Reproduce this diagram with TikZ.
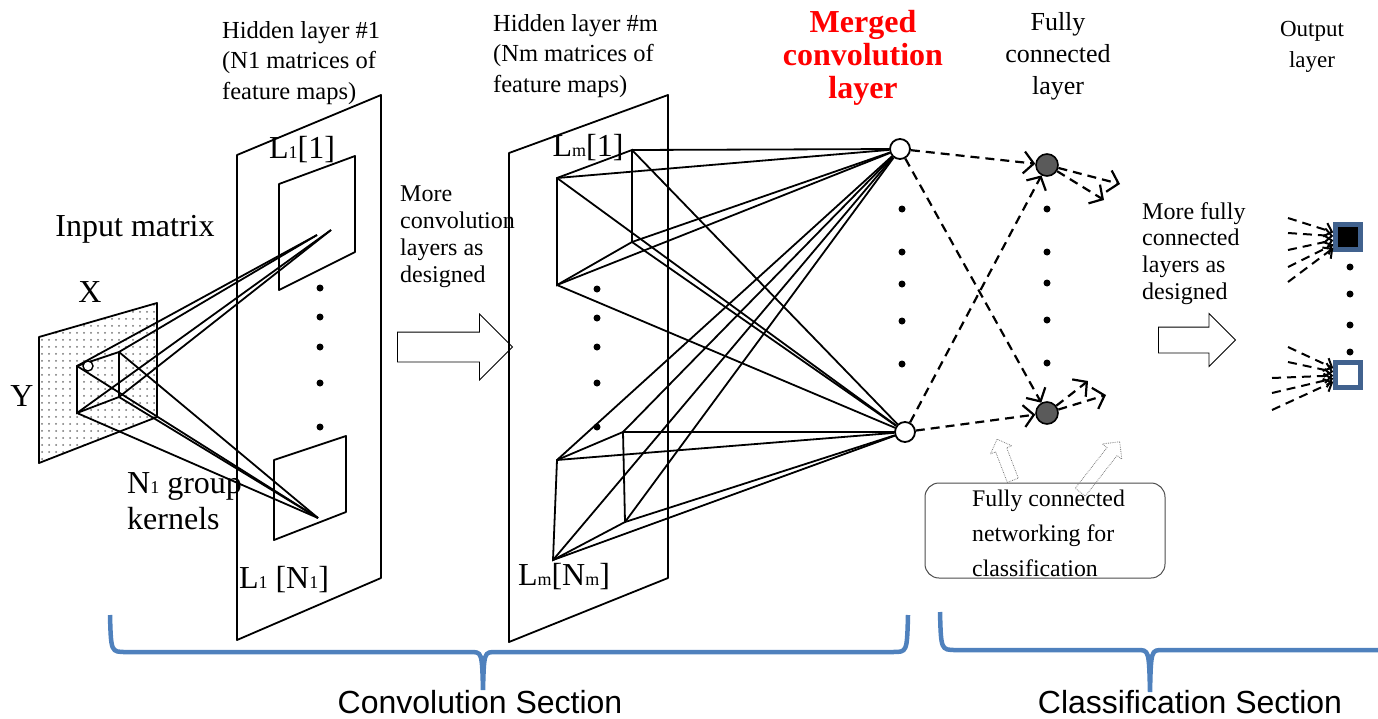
\documentclass[tikz,border=0pt]{standalone}
\usepackage{fontspec}
\setmainfont{Liberation Serif}
\setsansfont{Liberation Sans}
\usepackage{tikz}
\usetikzlibrary{positioning}
\usetikzlibrary{arrows.meta}
\usetikzlibrary{shapes.arrows}
\usetikzlibrary{patterns.meta}

\definecolor{braceblue}{RGB}{79,129,189}
\definecolor{outblue}{RGB}{65,98,142}
\definecolor{fcgray}{RGB}{90,90,90}

\begin{document}
\begin{tikzpicture}[x=1pt,y=-1pt,
	plane/.style={line width=1.8pt,line join=round},
	link/.style={line width=1.8pt},
	dot/.style={circle,fill=black,inner sep=0pt,minimum size=7pt},
	merged/.style={circle,draw,line width=1.8pt,fill=white,inner sep=0pt,minimum size=20pt},
	fcnode/.style={circle,draw,line width=1.6pt,fill=fcgray,inner sep=0pt,minimum size=22pt},
	outnode/.style={rectangle,draw=outblue,line width=4.5pt,inner sep=0pt,minimum size=25pt},
	dlink/.style={line width=2.2pt,dash pattern=on 9pt off 6pt,-{Straight Barb[length=10pt,width=22pt,line width=2.2pt]}},
	dlinksmall/.style={line width=2pt,dash pattern=on 9pt off 6pt,-{Straight Barb[length=7pt,width=14pt,line width=2pt]}},
	blockarrow/.style={single arrow,draw,fill=white,line width=0.8pt,inner xsep=0pt,single arrow tip angle=90},
	pointer/.style={single arrow,draw=gray,densely dotted,line width=0.8pt,inner xsep=0pt,single arrow tip angle=90},
	secbrace/.style={draw=braceblue,line width=4.5pt},
	labtext/.style={font=\fontsize{32}{36}\selectfont,inner sep=0pt},
	captext/.style={font=\fontsize{24.5}{30.5}\selectfont,inner sep=0pt},
	moretext/.style={font=\fontsize{24}{26.7}\selectfont,inner sep=0pt,align=left},
	sectext/.style={font=\sffamily\fontsize{32}{34}\selectfont,inner sep=0pt,anchor=base}]
	\useasboundingbox (0,0) rectangle (1378,718);
	\def\sm#1{{\fontsize{18}{18}\selectfont #1}}

	%input matrix
	\fill[white] (39,337) -- (157,303) -- (157,417) -- (39,463) -- cycle;
	\fill[pattern={Dots[distance=7pt,radius=1pt]},pattern color=black!55] (39,337) -- (157,303) -- (157,417) -- (39,463) -- cycle;
	\draw[plane] (39,337) -- (157,303) -- (157,417) -- (39,463) -- cycle;
	\coordinate (kernel_c1) at (77,366);
	\coordinate (kernel_c2) at (119,352);
	\coordinate (kernel_c3) at (119,397);
	\coordinate (kernel_c4) at (77,413);
	\draw[link] (kernel_c1) -- (kernel_c2) -- (kernel_c3) -- (kernel_c4) -- cycle;
	\node[labtext] (input_label) at (135,229) {Input matrix};
	\node[labtext] (x_label) at (90,292) {X};
	\node[labtext] (y_label) at (22,396) {Y};
	\node[labtext,align=left,anchor=north west] (kernel_label) at (127,472) {N\sm{1} group\\kernels};

	%hidden layer 1
	\draw[plane] (237,155) -- (381,95) -- (381,578) -- (237,640) -- cycle;
	\draw[plane] (279,184) -- (355,156) -- (355,252) -- (279,290) -- cycle;
	\draw[plane] (274,460) -- (346,436) -- (346,512) -- (274,540) -- cycle;
	\coordinate (l1_target1) at (317,235);
	\coordinate (l1_target2) at (331,230);
	\coordinate (l1_target3) at (318,518);
	\foreach \y in {288,317,347,383,427} {
		\node[dot] at (320,\y) {};
	}
	\node[labtext] (l1_first) at (302,150) {L\sm{1}[1]};
	\node[labtext] (l1_last) at (284,580) {L\sm{1} [N\sm{1}]};
	\node[captext,align=left,anchor=north west] (hidden1_label) at (222,21) {Hidden layer \#1\\(N1 matrices of\\feature maps)};

	% kernels to feature maps
	\foreach \i in {1,2} {
		\draw[link] (kernel_c\i) -- (l1_target1);
		\draw[link] (kernel_c\i) -- (l1_target3);
	}
	\foreach \i in {3,4} {
		\draw[link] (kernel_c\i) -- (l1_target2);
		\draw[link] (kernel_c\i) -- (l1_target3);
	}
	\draw[fill=white,line width=1.4pt] (kernel_c1) ++(11,0) circle (5pt);

	%more convolution layers
	\node[moretext,anchor=north west] (more_conv) at (400,186) {More\\convolution\\layers as\\designed};
	\node[blockarrow,minimum height=115pt,inner ysep=14.5pt,single arrow head extend=18pt] (more_conv_arrow) at (447.5,347) {};

	%hidden layer m
	\draw[plane] (509,153) -- (668,95) -- (668,578) -- (509,642) -- cycle;
	\coordinate (lm1_a) at (557,178);
	\coordinate (lm1_b) at (632,150);
	\coordinate (lm1_c) at (632,242);
	\coordinate (lm1_d) at (557,285);
	\coordinate (lmN_a) at (557,460);
	\coordinate (lmN_b) at (623,432);
	\coordinate (lmN_c) at (625,522);
	\coordinate (lmN_d) at (553,560);
	\draw[link] (lm1_a) -- (lm1_b) -- (lm1_c) -- (lm1_d) -- cycle;
	\draw[link] (lmN_a) -- (lmN_b) -- (lmN_c) -- (lmN_d) -- cycle;
	\foreach \y in {289,318,347,383,427} {
		\node[dot] at (597,\y) {};
	}
	\node[labtext] (lm_first) at (588,148) {L\sm{m}[1]};
	\node[labtext] (lm_last) at (564,577) {L\sm{m}[N\sm{m}]};
	\node[captext,align=left,anchor=north west] (hiddenm_label) at (493,14) {Hidden layer \#m\\(Nm matrices of\\feature maps)};

	%merged convolution layer
	\node[merged] (merged_node1) at (900,149) {};
	\node[merged] (merged_node2) at (905,432) {};
	\foreach \y in {209,252,284,321,364} {
		\node[dot] at (902,\y) {};
	}
	\foreach \c in {lm1_a,lm1_b,lm1_c,lm1_d,lmN_a,lmN_b,lmN_c,lmN_d} {
		\draw[link] (\c) -- (merged_node1);
		\draw[link] (\c) -- (merged_node2);
	}
	\node[font=\bfseries\fontsize{32}{33}\selectfont,text=red,align=center,inner sep=0pt,anchor=north] (merged_label) at (863,10.5) {Merged\\convolution\\layer};

	%fully connected layer
	\node[fcnode] (fc_node1) at (1047,165) {};
	\node[fcnode] (fc_node2) at (1047,413) {};
	\foreach \y in {209,252,283,320,363} {
		\node[dot] at (1047,\y) {};
	}
	\foreach \i in {1,2} {
		\foreach \j in {1,2} {
			\draw[dlink] (merged_node\i) -- (fc_node\j);
		}
	}
	\coordinate (fc_out1) at (1120,184);
	\coordinate (fc_out2) at (1104,200);
	\coordinate (fc_out3) at (1088,381);
	\coordinate (fc_out4) at (1106,395);
	\draw[dlink] (fc_node1) -- (fc_out1);
	\draw[dlink] (fc_node1) -- (fc_out2);
	\draw[dlink] (fc_node2) -- (fc_out3);
	\draw[dlink] (fc_node2) -- (fc_out4);
	\node[font=\fontsize{26}{32}\selectfont,inner sep=0pt,align=center,anchor=north] (fc_label) at (1058,12.5) {Fully\\connected\\layer};

	%classification box
	\node[draw=black!70,line width=1pt,rounded corners=14pt,minimum width=240pt,minimum height=95pt] (fc_box) at (1045,530.5) {};
	\node[moretext,font=\fontsize{23.8}{35}\selectfont,anchor=north west] (fc_box_text) at (972,490) {Fully connected\\networking for\\classification};
	\node[pointer,minimum height=44pt,inner ysep=5.5pt,single arrow head extend=5.5pt,rotate=111] (pointer1) at (1006,462.5) {};
	\node[pointer,minimum height=64pt,inner ysep=6pt,single arrow head extend=6pt,rotate=52] (pointer2) at (1098,469.5) {};

	%more fully connected layers
	\node[moretext,anchor=north west] (more_fc) at (1142,202) {More fully\\connected\\layers as\\designed};
	\node[blockarrow,minimum height=77pt,inner ysep=12.5pt,single arrow head extend=13.5pt] (more_fc_arrow) at (1190.5,340) {};

	%output layer
	\node[outnode,fill=black] (out_node1) at (1348,237) {};
	\node[outnode,fill=white] (out_node2) at (1348,375) {};
	\foreach \y in {267,294,325,352} {
		\node[dot] at (1350,\y) {};
	}
	\foreach \y [count=\i] in {218,233,250,267,282} {
		\coordinate (out_tail1_\i) at (1288,\y);
		\draw[dlinksmall] (out_tail1_\i) -- (out_node1);
	}
	\foreach \x/\y [count=\i] in {1288/347,1288/362,1272/378,1272/393,1272/410} {
		\coordinate (out_tail2_\i) at (\x,\y);
		\draw[dlinksmall] (out_tail2_\i) -- (out_node2);
	}
	\node[captext,font=\fontsize{23}{31}\selectfont,align=center,anchor=north] (out_label) at (1312,21) {Output\\layer};

	%sections
	\draw[secbrace] (110,615) .. controls (111,652) .. (126,652) -- (470,652) .. controls (482,652) .. (483,690) .. controls (484,652) .. (496,652) -- (893,652) .. controls (907,652) .. (908,615);
	\draw[secbrace] (940,612) .. controls (941,650) .. (956,650) -- (1137,650) .. controls (1149,650) .. (1150,692) .. controls (1151,650) .. (1163,650) -- (1380,650);
	\node[sectext] (conv_section) at (480,713) {Convolution Section};
	\node[sectext] (class_section) at (1190,713) {Classification Section};
\end{tikzpicture}
\end{document}
